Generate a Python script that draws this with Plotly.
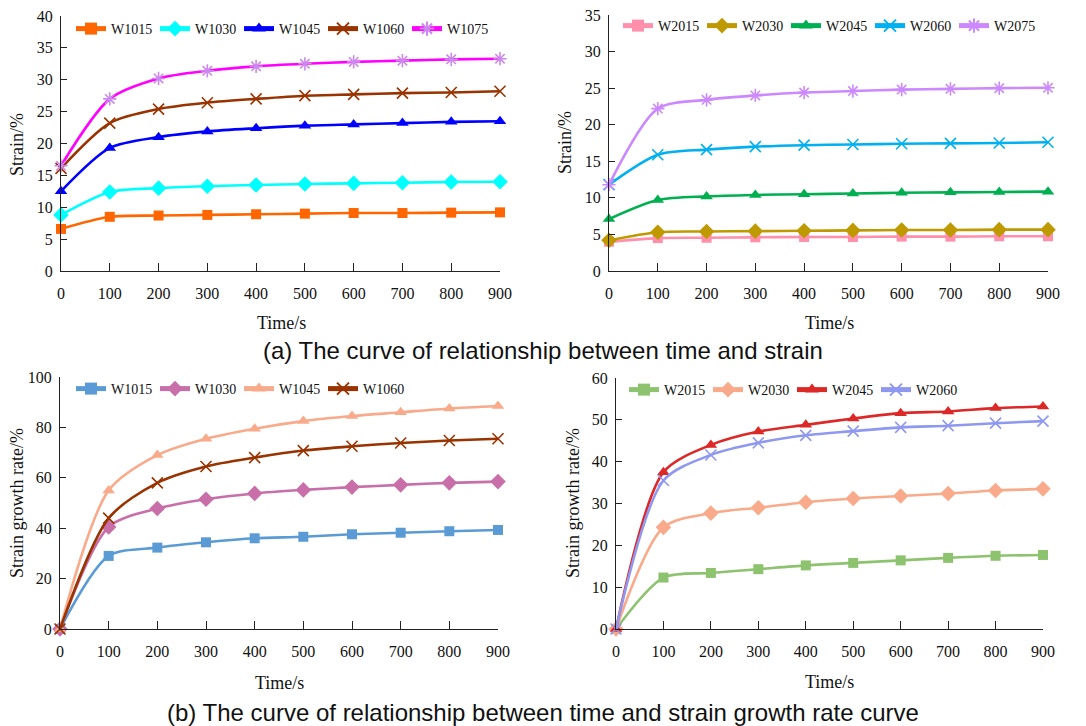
import plotly.graph_objects as go

W, H = 1086, 726

time_s = [0, 100, 200, 300, 400, 500, 600, 700, 800, 900]

# (a) strain, group W10xx
strain_w1015 = [6.6, 8.5, 8.7, 8.8, 8.9, 9.0, 9.1, 9.1, 9.15, 9.2]
strain_w1030 = [8.8, 12.4, 13.0, 13.3, 13.5, 13.65, 13.75, 13.85, 13.95, 14.0]
strain_w1045 = [12.5, 19.3, 21.0, 21.9, 22.4, 22.8, 23.0, 23.2, 23.4, 23.5]
strain_w1060 = [16.1, 23.2, 25.4, 26.4, 27.0, 27.5, 27.7, 27.9, 28.0, 28.2]
strain_w1075 = [16.5, 27.0, 30.2, 31.4, 32.1, 32.5, 32.8, 33.0, 33.2, 33.3]

# (a) strain, group W20xx
strain_w2015 = [4.0, 4.5, 4.55, 4.6, 4.65, 4.65, 4.7, 4.7, 4.75, 4.75]
strain_w2030 = [4.2, 5.3, 5.4, 5.45, 5.5, 5.55, 5.6, 5.6, 5.65, 5.65]
strain_w2045 = [7.1, 9.7, 10.2, 10.4, 10.5, 10.6, 10.7, 10.75, 10.8, 10.85]
strain_w2060 = [11.8, 15.9, 16.6, 17.0, 17.2, 17.3, 17.4, 17.45, 17.5, 17.6]
strain_w2075 = [11.8, 22.2, 23.4, 24.0, 24.4, 24.6, 24.8, 24.9, 25.0, 25.05]

# (b) strain growth rate, group W10xx
rate_w1015 = [0, 29.0, 32.3, 34.4, 36.0, 36.6, 37.6, 38.2, 38.8, 39.3]
rate_w1030 = [0, 40.5, 47.8, 51.5, 53.8, 55.2, 56.3, 57.2, 58.0, 58.5]
rate_w1045 = [0, 55.0, 69.0, 75.5, 79.5, 82.5, 84.5, 86.0, 87.5, 88.5]
rate_w1060 = [0, 44.0, 58.0, 64.5, 68.0, 70.8, 72.5, 73.8, 74.8, 75.5]

# (b) strain growth rate, group W20xx
rate_w2015 = [0, 12.3, 13.4, 14.3, 15.2, 15.8, 16.4, 17.0, 17.5, 17.7]
rate_w2030 = [0, 24.3, 27.7, 29.0, 30.3, 31.2, 31.8, 32.4, 33.1, 33.5]
rate_w2045 = [0, 37.5, 44.0, 47.2, 48.8, 50.3, 51.6, 52.0, 52.8, 53.2]
rate_w2060 = [0, 35.5, 41.6, 44.5, 46.3, 47.3, 48.2, 48.6, 49.2, 49.7]

x_ticks = [0, 100, 200, 300, 400, 500, 600, 700, 800, 900]

SERIF = "Times New Roman, Liberation Serif, serif"
SANS = "Arial, Liberation Sans, sans-serif"

fig = go.Figure()


def add(name, y, xa, ya, legend, line_color, symbol, marker_color=None, size=9, open_sym=False):
    mc = marker_color or line_color
    marker = dict(symbol=symbol, size=size, color=mc)
    if open_sym:
        marker["line"] = dict(color=mc, width=1.6)
    fig.add_trace(go.Scatter(
        x=time_s, y=y, name=name, mode="lines+markers",
        xaxis=xa, yaxis=ya, legend=legend,
        line=dict(color=line_color, width=2.6, shape="spline", smoothing=0.8),
        marker=marker, cliponaxis=False,
    ))


# panel 1
add("W1015", strain_w1015, "x", "y", "legend", "#FF6600", "square", size=10)
add("W1030", strain_w1030, "x", "y", "legend", "#00FFFF", "diamond", size=12)
add("W1045", strain_w1045, "x", "y", "legend", "#0000FF", "triangle-up", size=11)
add("W1060", strain_w1060, "x", "y", "legend", "#993300", "x-thin-open", size=11, open_sym=True)
add("W1075", strain_w1075, "x", "y", "legend", "#FF00FF", "asterisk-open", marker_color="#CC88EE", size=11, open_sym=True)

# panel 2
add("W2015", strain_w2015, "x2", "y2", "legend2", "#FF8FAA", "square", size=10)
add("W2030", strain_w2030, "x2", "y2", "legend2", "#BF9900", "diamond", size=12)
add("W2045", strain_w2045, "x2", "y2", "legend2", "#00B050", "triangle-up", size=11)
add("W2060", strain_w2060, "x2", "y2", "legend2", "#00B0F0", "x-thin-open", size=11, open_sym=True)
add("W2075", strain_w2075, "x2", "y2", "legend2", "#CC88FF", "asterisk-open", size=11, open_sym=True)

# panel 3
add("W1015", rate_w1015, "x3", "y3", "legend3", "#5B9BD5", "square", size=10)
add("W1030", rate_w1030, "x3", "y3", "legend3", "#C86EA8", "diamond", size=12)
add("W1045", rate_w1045, "x3", "y3", "legend3", "#F8AA8A", "triangle-up", size=11)
add("W1060", rate_w1060, "x3", "y3", "legend3", "#993300", "x-thin-open", size=11, open_sym=True)

# panel 4
add("W2015", rate_w2015, "x4", "y4", "legend4", "#8DC26F", "square", size=10)
add("W2030", rate_w2030, "x4", "y4", "legend4", "#F9AA8A", "diamond", size=12)
add("W2045", rate_w2045, "x4", "y4", "legend4", "#DD2828", "triangle-up", size=11)
add("W2060", rate_w2060, "x4", "y4", "legend4", "#8F98F0", "x-thin-open", size=11, open_sym=True)


def xd(x0, x1):
    return [x0 / W, x1 / W]


def yd(top, bottom):
    return [1 - bottom / H, 1 - top / H]


tickfont = dict(family=SERIF, size=16, color="#111")
axis_common = dict(showgrid=False, zeroline=False, showline=True, linecolor="#222", linewidth=1.3,
                   ticks="inside", tickcolor="#222", tickwidth=1.2, tickfont=tickfont, automargin=False)

panels = [
    # (xaxis, yaxis, x0, x1, ytop, ybottom, ymax, ydtick)
    ("xaxis", "yaxis", 61, 500, 16, 271, 40, 5),
    ("xaxis2", "yaxis2", 609, 1048, 15, 271, 35, 5),
    ("xaxis3", "yaxis3", 60, 498, 377, 629, 100, 20),
    ("xaxis4", "yaxis4", 616, 1043, 378, 629, 60, 10),
]
layout = {}
for i, (xa, ya, x0, x1, yt, yb, ymax, dt) in enumerate(panels):
    xid = "x" if i == 0 else f"x{i+1}"
    yid = "y" if i == 0 else f"y{i+1}"
    layout[xa] = dict(axis_common, domain=xd(x0, x1), range=[0, 900], anchor=yid,
                      tickvals=x_ticks, ticklen=8, ticklabelstandoff=8)
    layout[ya] = dict(axis_common, domain=yd(yt, yb), range=[0, ymax], anchor=xid,
                      dtick=dt, tick0=0, ticklen=6, ticklabelstandoff=4)

legend_common = dict(orientation="h", xanchor="left", yanchor="middle", bgcolor="rgba(0,0,0,0)",
                     font=dict(family=SERIF, size=14, color="#111"), entrywidthmode="pixels",
                     entrywidth=39, tracegroupgap=0, itemsizing="constant")
layout["legend"] = dict(legend_common, x=71 / W, y=1 - 29 / H)
layout["legend2"] = dict(legend_common, x=618 / W, y=1 - 26 / H)
layout["legend3"] = dict(legend_common, x=71 / W, y=1 - 389 / H)
layout["legend4"] = dict(legend_common, x=624 / W, y=1 - 390 / H)

annotations = []


def ann(text, x, y, size, family, angle=0):
    annotations.append(dict(text=text, x=x / W, y=1 - y / H, xref="paper", yref="paper",
                            showarrow=False, textangle=angle, xanchor="center", yanchor="middle",
                            font=dict(family=family, size=size, color="#111")))


ann("Strain/%", 17, 145, 18, SERIF, -90)
ann("Strain/%", 565, 143, 18, SERIF, -90)
ann("Strain growth rate/%", 17, 503, 18, SERIF, -90)
ann("Strain growth rate/%", 573, 503, 18, SERIF, -90)
ann("Time/s", 281, 323, 18, SERIF)
ann("Time/s", 829, 323, 18, SERIF)
ann("Time/s", 279, 683, 18, SERIF)
ann("Time/s", 829, 682, 18, SERIF)
ann("(a) The curve of relationship between time and strain", 543, 350, 24, SANS)
ann("(b) The curve of relationship between time and strain growth rate curve", 543, 712, 24, SANS)

fig.update_layout(**layout)
fig.update_layout(width=W, height=H, margin=dict(l=0, r=0, t=0, b=0, autoexpand=False),
                  paper_bgcolor="white", plot_bgcolor="white", showlegend=True,
                  annotations=annotations)

fig.write_html("out.html", config={"displayModeBar": False},
               post_script="document.body.style.margin='0';document.body.style.padding='0';")
